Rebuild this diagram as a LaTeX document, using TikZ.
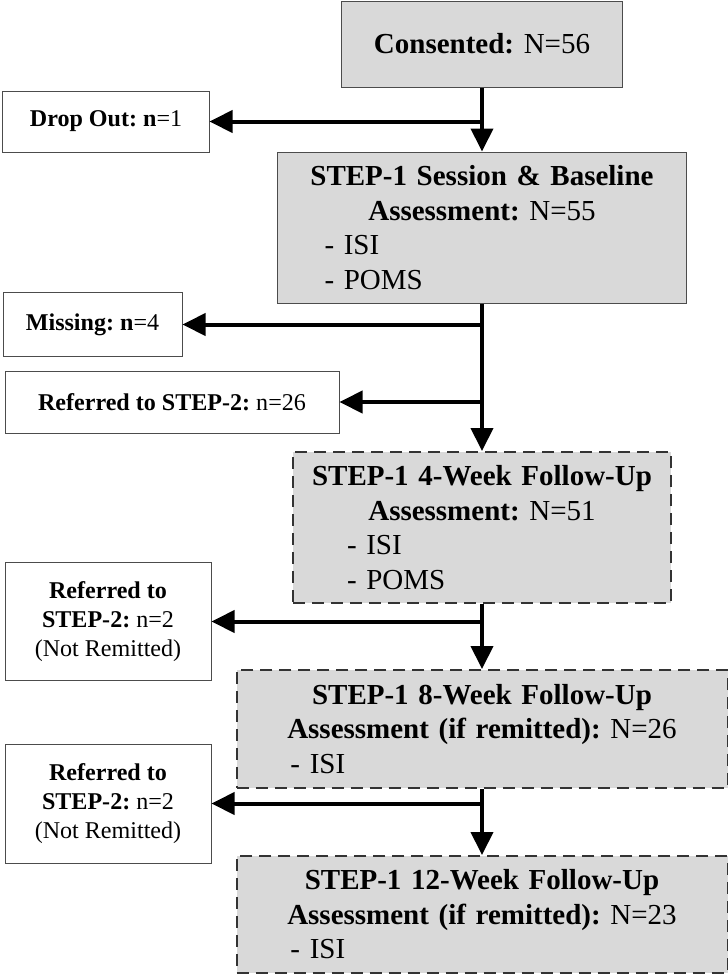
\documentclass[tikz,border=0pt]{standalone}
\usepackage{fontspec}
\setmainfont{Liberation Serif}
\usetikzlibrary{arrows.meta}
\frenchspacing
\newcommand{\listitem}[2]{\makebox[\hsize][l]{\hspace{#1}- #2}}

\begin{document}
\begin{tikzpicture}[
        stage/.style={rectangle,draw=black!70,line width=0.02cm,fill=black!15,inner xsep=0pt,align=center,font=\fontsize{16.5}{19.6}\selectfont},
        followup/.style={stage,draw=black!80,line width=0.04cm,dash pattern=on 0.24cm off 0.14cm},
        side/.style={rectangle,draw=black!70,line width=0.02cm,fill=white,align=center,font=\fontsize{13.7}{16.6}\selectfont},
        flow/.style={line width=0.08cm,-{Triangle[length=0.46cm,width=0.44cm]}}]
            \useasboundingbox (0,0) rectangle (14.56,-19.5);
            % Main column
            \node[stage,text width=5.62cm,minimum height=1.72cm] (node1) at (9.64,-0.88) {\textbf{Consented:} N=56};
            \node[stage,text width=8.18cm,minimum height=3.02cm] (node3) at (9.64,-4.55) {\textbf{STEP-1 Session \& Baseline}\\\textbf{Assessment:} N=55\\\listitem{0.94cm}{ISI}\\\listitem{0.94cm}{POMS}};
            \node[followup,text width=7.56cm,minimum height=3.02cm] (node6) at (9.64,-10.55) {\textbf{STEP-1 4-Week Follow-Up}\\\textbf{Assessment:} N=51\\\listitem{1.08cm}{ISI}\\\listitem{1.08cm}{POMS}};
            \node[followup,text width=9.82cm,minimum height=2.36cm] (node8) at (9.64,-14.58) {\textbf{STEP-1 8-Week Follow-Up}\\\textbf{Assessment (if remitted):} N=26\\\listitem{1.08cm}{ISI}};
            \node[followup,text width=9.82cm,minimum height=2.34cm] (node10) at (9.64,-18.29) {\textbf{STEP-1 12-Week Follow-Up}\\\textbf{Assessment (if remitted):} N=23\\\listitem{1.08cm}{ISI}};
            % Side boxes
            \node[side,minimum width=4.12cm,minimum height=1.22cm] (node2) at (2.12,-2.43) {\textbf{Drop Out: n}=1};
            \node[side,minimum width=3.58cm,minimum height=1.28cm] (node4) at (1.85,-6.49) {\textbf{Missing: n}=4};
            \node[side,minimum width=6.68cm,minimum height=1.24cm] (node5) at (3.44,-8.04) {\textbf{Referred to STEP-2:} n=26};
            \node[side,minimum width=4.12cm,minimum height=2.36cm] (node7) at (2.16,-12.43) {\textbf{Referred to}\\\textbf{STEP-2:} n=2\\(Not Remitted)};
            \node[side,minimum width=4.12cm,minimum height=2.38cm] (node9) at (2.16,-16.07) {\textbf{Referred to}\\\textbf{STEP-2:} n=2\\(Not Remitted)};
            % Arrows
            \coordinate (b1) at (node1.south |- node2.east);
            \coordinate (b2) at (node3.south |- node4.east);
            \coordinate (b3) at (node3.south |- node5.east);
            \coordinate (b4) at (node6.south |- node7.east);
            \coordinate (b5) at (node8.south |- node9.east);
            \draw[flow] (node1.south) -- (node3.north);
            \draw[flow] (b1) -- (node2.east);
            \draw[flow] (node3.south) -- (node6.north);
            \draw[flow] (b2) -- (node4.east);
            \draw[flow] (b3) -- (node5.east);
            \draw[flow] (node6.south) -- (node8.north);
            \draw[flow] (b4) -- (node7.east);
            \draw[flow] (node8.south) -- (node10.north);
            \draw[flow] (b5) -- (node9.east);
        \end{tikzpicture}
\end{document}
